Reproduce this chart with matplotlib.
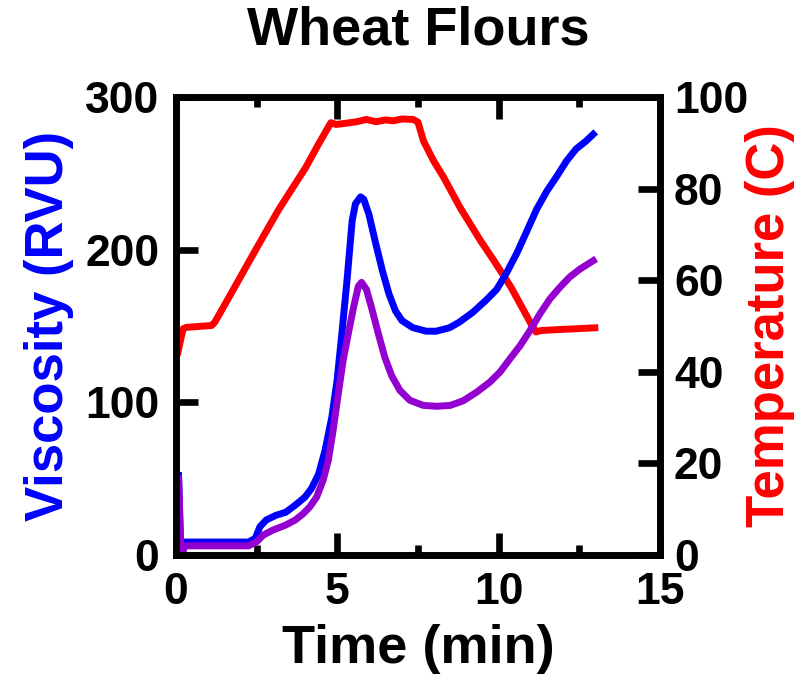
import numpy as np
import matplotlib.pyplot as plt
from matplotlib.ticker import MultipleLocator

plt.rcParams['font.family'] = ['Liberation Sans', 'DejaVu Sans']
plt.rcParams['font.weight'] = 'bold'

# temperature profile (C)
time_temp = [0.06, 0.22, 0.32, 0.7, 1.1, 1.2, 1.7, 2.25, 2.7, 3.19, 3.6, 4.02, 4.4, 4.8,
             4.96, 5.3, 5.6, 5.9, 6.2, 6.5, 6.73, 7.0, 7.35, 7.5, 7.67, 7.98, 8.3, 8.8,
             9.44, 9.85, 10.38, 11.0, 11.16, 11.3, 11.8, 12.4, 12.98]
temp = [44.3, 49.4, 49.7, 49.9, 50.1, 50.8, 57.0, 63.9, 69.5, 75.5, 80.0, 84.6, 89.5, 94.4,
        94.0, 94.3, 94.6, 95.1, 94.6, 95.0, 94.8, 95.2, 95.1, 94.5, 90.4, 86.1, 82.4, 75.9,
        68.6, 64.3, 58.5, 50.5, 48.7, 49.0, 49.2, 49.4, 49.6]

# viscosity, flour 1 (blue)
time_blue = [0.08, 0.15, 0.27, 1.0, 2.25, 2.46, 2.6, 2.8, 3.1, 3.4, 3.7, 4.0, 4.2, 4.42,
             4.62, 4.83, 4.99, 5.14, 5.3, 5.46, 5.56, 5.72, 5.82, 5.98, 6.19, 6.4, 6.6,
             6.8, 7.0, 7.33, 7.75, 8.06, 8.47, 8.78, 9.2, 9.6, 9.94, 10.25, 10.57, 10.87,
             11.18, 11.5, 11.8, 12.1, 12.4, 12.7, 12.93]
visc_blue = [52, -1, 8.5, 8.5, 8.5, 11, 18.5, 23, 26, 28, 32.7, 38, 43.6, 53,
             68.6, 90.4, 114, 145, 180, 219, 230, 234.6, 233, 223, 204, 186, 171,
             160, 153.6, 149, 146.6, 146.6, 148.8, 152.5, 159, 166.7, 174, 185, 198, 212,
             226.6, 238.6, 248, 258, 266, 271, 275.6]

# viscosity, flour 2 (purple)
time_purp = [0.08, 0.16, 0.27, 1.0, 2.25, 2.5, 2.7, 3.0, 3.4, 3.7, 3.94, 4.15, 4.36, 4.56,
             4.72, 4.87, 5.03, 5.18, 5.34, 5.5, 5.65, 5.75, 5.9, 6.06, 6.27, 6.47, 6.68,
             6.94, 7.25, 7.66, 8.08, 8.5, 8.9, 9.32, 9.73, 10.04, 10.35, 10.66, 10.97,
             11.28, 11.59, 11.9, 12.2, 12.5, 12.93]
visc_purp = [50, -2, 6.0, 6.0, 6.0, 8.7, 13, 16.3, 19.6, 23, 27, 31.6, 38, 49,
             62, 81.7, 105.7, 127.5, 145, 162, 176, 178.6, 174, 162, 145, 129.6, 117.6,
             107.8, 101.3, 98, 97.4, 98, 101, 106.7, 113.3, 119.8, 128.5, 137, 147,
             158, 167.8, 175.4, 182, 187, 192.8]

fig = plt.figure(figsize=(8.03, 6.81), dpi=100)
ax = fig.add_axes([176/803, 1-555/681, 484/803, 458/681])
ax2 = ax.twinx()
ax.set_zorder(2)
ax2.set_zorder(1)
ax.patch.set_visible(False)

lw = 5
ax2.plot(time_temp, temp, color='#ff0000', lw=lw, solid_joinstyle='round')
ax.plot(time_blue, visc_blue, color='#0000ff', lw=lw, solid_joinstyle='round')
ax.plot(time_purp, visc_purp, color='#9400d0', lw=lw, solid_joinstyle='round')

ax.set_xlim(0, 15)
ax.set_ylim(0, 300)
ax2.set_ylim(0, 100)
ax.xaxis.set_major_locator(MultipleLocator(5))
ax.xaxis.set_minor_locator(MultipleLocator(2.5))
ax.yaxis.set_major_locator(MultipleLocator(100))
ax2.yaxis.set_major_locator(MultipleLocator(20))

for a in (ax, ax2):
    for s in a.spines.values():
        s.set_linewidth(4.8)
    a.tick_params(which='major', direction='in', length=16, width=4.8, labelsize=32, pad=12)
    a.tick_params(which='minor', direction='in', length=7.5, width=4.8)
ax.tick_params(axis='x', which='both', top=True)
ax.tick_params(axis='y', which='minor', left=False)
ax2.tick_params(axis='y', pad=10)

ax.set_xlabel('Time (min)', fontsize=39, fontweight='bold', labelpad=8)
ax.set_ylabel('Viscosity (RVU)', fontsize=38, fontweight='bold', color='#0000ff', labelpad=8)
ax2.set_ylabel('Temperature (C)', fontsize=38, fontweight='bold', color='#ff0000', labelpad=-2)
ax.set_title('Wheat Flours', fontsize=39, fontweight='bold', pad=38)

fig.savefig('out.png', dpi=100)
